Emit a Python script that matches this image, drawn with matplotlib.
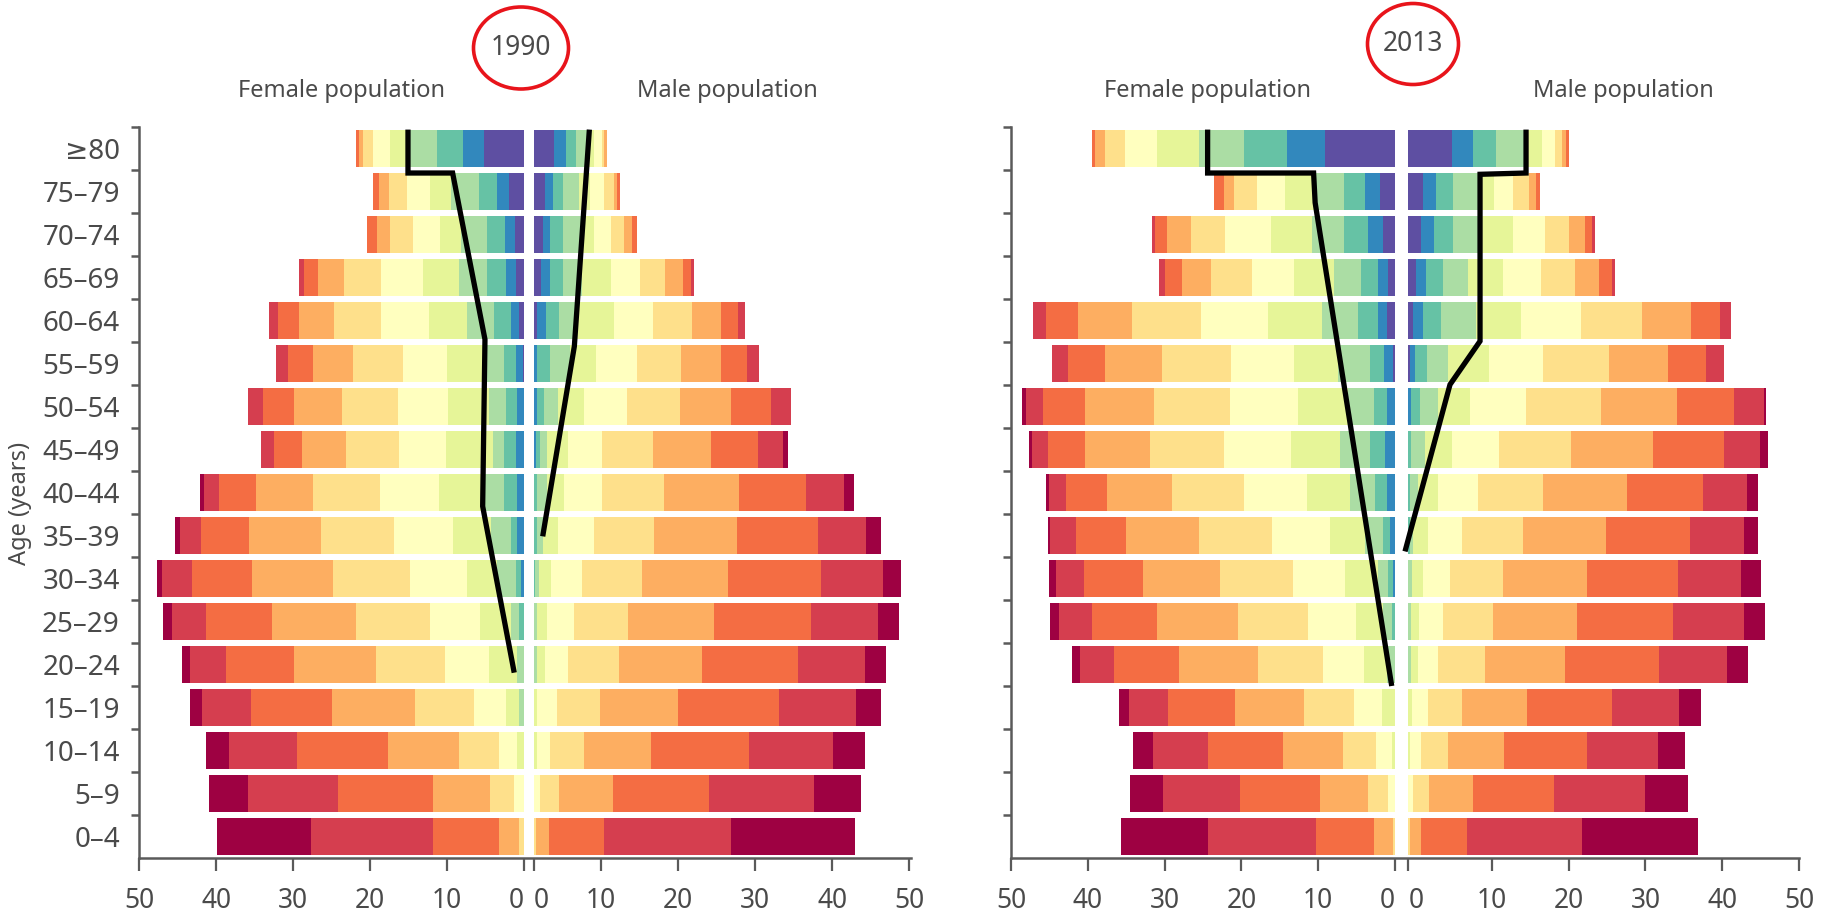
import matplotlib
matplotlib.use("Agg")
import matplotlib.pyplot as plt
from matplotlib.patches import Ellipse

plt.rcParams['font.family'] = ['Noto Sans', 'DejaVu Sans']

AGE_GROUPS = ['0–4', '5–9', '10–14', '15–19', '20–24', '25–29', '30–34', '35–39',
              '40–44', '45–49', '50–54', '55–59', '60–64', '65–69', '70–74', '75–79', '≥80']

# Spectral palette, index 0 = outermost (dark red), 10 = innermost (purple)
SPECTRAL = ['#9e0142', '#d53e4f', '#f46d43', '#fdae61', '#fee08b', '#ffffbf',
            '#e6f598', '#abdda4', '#66c2a5', '#3288bd', '#5e4fa2']

# each row: colour index of the innermost segment, then the outer edge of every
# segment going outwards from the centre line (in %)
F1990_INNER = [4, 5, 6, 7, 7, 8, 9, 9, 9, 9, 9, 10, 10, 10, 10, 10, 10]
F1990_EDGES = [
    [0.65, 3.3, 11.9, 27.7, 39.9],
    [1.3, 4.4, 11.9, 24.2, 35.9, 40.9],
    [0.9, 3.3, 8.5, 17.7, 29.5, 38.4, 41.3],
    [0.65, 2.4, 6.5, 14.2, 25.0, 35.5, 41.8, 43.4],
    [0.9, 4.6, 10.3, 19.2, 29.9, 38.8, 43.4, 44.4],
    [0.65, 1.7, 5.7, 12.2, 21.8, 32.7, 41.4, 45.8, 46.9],
    [0.4, 1.1, 3.5, 7.4, 14.8, 24.9, 35.3, 43.2, 47.0, 47.7],
    [0.9, 1.7, 4.3, 9.2, 16.9, 26.4, 35.7, 42.0, 44.7, 45.4],
    [0.9, 2.6, 5.6, 11.1, 18.7, 27.4, 34.9, 39.7, 41.6, 42.1],
    [1.1, 2.6, 4.1, 10.2, 16.3, 23.2, 28.9, 32.5, 34.2],
    [0.9, 2.4, 4.6, 9.9, 16.4, 23.7, 29.9, 33.9, 35.9],
    [0.2, 1.1, 2.6, 5.0, 10.0, 15.8, 22.2, 27.4, 30.7, 32.3],
    [0.65, 1.7, 3.9, 7.4, 12.4, 18.6, 24.7, 29.2, 32.0, 33.1],
    [1.1, 2.4, 4.8, 8.5, 13.2, 18.6, 23.4, 26.8, 28.6, 29.3],
    [1.2, 2.5, 4.8, 8.2, 10.9, 14.4, 17.4, 19.1, 20.4],
    [2.0, 3.5, 5.9, 9.5, 12.2, 15.2, 17.6, 18.9, 19.6],
    [5.2, 8.0, 11.3, 15.2, 17.4, 19.7, 21.0, 21.5, 21.9],
]

M1990_INNER = [4, 5, 6, 6, 7, 7, 8, 8, 8, 9, 9, 9, 10, 10, 10, 10, 10]
M1990_EDGES = [
    [1.5, 3.2, 10.3, 26.8, 42.9],
    [2.1, 4.5, 11.5, 24.0, 37.6, 43.8],
    [1.6, 3.4, 7.7, 16.5, 29.2, 40.1, 44.2],
    [1.6, 4.3, 9.8, 20.0, 33.1, 43.1, 46.3],
    [1.6, 2.7, 5.7, 12.3, 23.1, 35.5, 44.3, 47.0],
    [1.7, 3.0, 6.5, 13.5, 24.6, 37.2, 46.0, 48.7],
    [1.45, 1.9, 3.5, 7.5, 15.3, 26.5, 38.6, 46.6, 49.0],
    [1.7, 2.5, 4.4, 9.0, 16.9, 27.7, 38.1, 44.4, 46.3],
    [1.7, 3.0, 5.2, 10.1, 18.1, 27.9, 36.6, 41.6, 42.8],
    [1.5, 2.0, 3.0, 5.7, 10.1, 16.7, 24.2, 30.4, 33.6, 34.3],
    [1.6, 2.6, 4.4, 7.8, 13.3, 20.2, 26.9, 32.0, 34.7],
    [1.6, 3.4, 6.0, 9.3, 14.6, 20.3, 25.6, 28.9, 30.5],
    [1.6, 2.8, 4.5, 6.9, 11.6, 16.7, 21.8, 25.6, 27.8, 28.7],
    [2.2, 3.4, 5.1, 7.5, 11.3, 15.1, 18.3, 20.6, 21.6, 22.1],
    [2.4, 3.4, 5.0, 7.5, 9.1, 11.3, 13.0, 14.0, 14.7],
    [2.7, 3.8, 5.1, 7.1, 8.6, 10.3, 11.6, 12.1, 12.4],
    [3.9, 5.4, 6.7, 8.2, 9.0, 10.1, 10.4, 10.7],
]

F2013_INNER = [4, 5, 6, 6, 7, 8, 9, 9, 9, 9, 9, 10, 10, 10, 10, 10, 10]
F2013_EDGES = [
    [0.2, 2.7, 10.3, 24.4, 35.7],
    [0.9, 3.5, 9.8, 20.2, 30.2, 34.5],
    [0.4, 2.5, 6.8, 14.6, 24.3, 31.5, 34.1],
    [1.7, 5.3, 11.8, 20.8, 29.5, 34.7, 36.0],
    [1.0, 4.1, 9.4, 17.9, 28.1, 36.6, 41.0, 42.1],
    [0.4, 1.5, 5.1, 11.3, 20.4, 31.0, 39.5, 43.8, 44.9],
    [0.3, 0.9, 2.2, 6.5, 13.3, 22.8, 32.8, 40.5, 44.2, 45.0],
    [0.65, 1.5, 3.9, 8.5, 16.0, 25.5, 35.0, 41.6, 44.9, 45.2],
    [1.0, 2.6, 5.8, 11.4, 19.7, 29.1, 37.5, 42.8, 45.0, 45.5],
    [1.3, 3.2, 7.1, 13.6, 22.3, 31.9, 40.3, 45.2, 47.3, 47.6],
    [1.1, 2.8, 6.1, 12.6, 21.5, 31.4, 40.3, 45.8, 48.1, 48.6],
    [0.2, 1.4, 3.2, 7.4, 13.1, 21.3, 30.3, 37.8, 42.6, 44.7],
    [1.0, 2.2, 4.8, 9.5, 16.5, 25.3, 34.3, 41.3, 45.5, 47.2],
    [0.95, 2.2, 4.4, 8.0, 13.1, 18.6, 23.9, 27.8, 29.9, 30.7],
    [1.5, 3.5, 6.6, 10.8, 16.2, 22.1, 26.6, 29.7, 31.2, 31.7],
    [1.9, 3.9, 6.6, 10.6, 14.3, 18.0, 20.9, 22.3, 23.6],
    [9.1, 14.1, 19.7, 25.5, 31.0, 35.1, 37.7, 39.0, 39.4],
]

M2013_INNER = [4, 5, 6, 6, 7, 7, 7, 8, 8, 8, 9, 10, 10, 10, 10, 10, 10]
M2013_EDGES = [
    [1.95, 3.4, 9.4, 24.4, 39.5],
    [2.4, 4.4, 10.1, 20.7, 32.6, 38.1],
    [1.9, 3.4, 6.9, 14.2, 25.0, 34.2, 37.7],
    [2.2, 4.3, 8.7, 17.2, 28.3, 37.0, 39.8],
    [2.1, 3.0, 5.6, 11.7, 22.1, 34.4, 43.2, 45.9],
    [2.1, 3.1, 6.2, 12.7, 23.7, 36.2, 45.4, 48.2],
    [2.2, 3.7, 7.2, 14.1, 25.0, 36.9, 45.0, 47.6],
    [1.9, 2.4, 4.3, 8.7, 16.6, 27.5, 38.4, 45.4, 47.3],
    [2.0, 3.0, 5.6, 10.8, 19.3, 30.2, 40.1, 45.8, 47.3],
    [2.1, 3.9, 7.4, 13.5, 22.9, 33.6, 42.8, 47.5, 48.6],
    [2.1, 3.3, 5.6, 9.8, 17.1, 26.8, 36.7, 44.1, 48.0, 48.3],
    [2.0, 2.6, 4.1, 6.9, 12.2, 19.3, 27.8, 35.5, 40.5, 42.8],
    [2.4, 3.7, 6.0, 10.6, 16.4, 24.2, 32.2, 38.6, 42.3, 43.8],
    [2.7, 4.0, 6.2, 9.5, 14.0, 19.0, 23.4, 26.5, 28.2, 28.7],
    [3.4, 5.1, 7.6, 10.9, 15.4, 19.5, 22.7, 24.7, 25.6, 26.0],
    [3.7, 5.3, 7.5, 10.8, 12.9, 15.4, 17.4, 18.4, 18.9],
    [7.4, 10.2, 13.2, 17.1, 19.1, 20.8, 21.7, 22.2, 22.6],
]

# hand-drawn black overlay lines (x in %, female negative; y in age-row units)
LINE_F1990 = ([-15.1, -15.1, -9.3, -5.1, -5.4, -1.3], [16.44, 15.43, 15.43, 11.56, 7.68, 3.81])
LINE_M1990 = ([8.46, 6.51, 2.40], [16.44, 11.40, 6.98])
LINE_F2013 = ([-24.4, -24.4, -10.6, -10.4, -0.43], [16.44, 15.43, 15.43, 14.74, 3.50])
LINE_M2013 = ([17.06, 17.06, 11.07, 11.07, 7.16, 1.30], [16.44, 15.43, 15.40, 11.52, 10.51, 6.63])

TICK_LABELS = ['50', '40', '30', '20', '10', '0', '0', '10', '20', '30', '40', '50']

TEXT = '#4a4a4a'
W, H = 1833, 914
fig = plt.figure(figsize=(W / 100, H / 100), dpi=100)


def draw_half(ax, edges, inner, sign, start):
    for row, (row_edges, c) in enumerate(zip(edges, inner)):
        prev = start
        for k, e in enumerate(row_edges):
            ax.barh(row, sign * (e - prev), left=sign * prev, height=0.87,
                    color=SPECTRAL[c - k], linewidth=0)
            prev = e


def panel(rect, female, male, gap, male_ticks, xmax, lines, labels):
    ax = fig.add_axes(rect)
    draw_half(ax, female[0], female[1], -1, 0.0)
    draw_half(ax, male[0], male[1], 1, gap)
    for xs, ys in lines:
        ax.plot(xs, ys, color='black', lw=3.8, solid_joinstyle='miter',
                solid_capstyle='butt', zorder=5)
    ax.set_xlim(-50, xmax)
    ax.set_ylim(-0.5, 16.5)
    for s in ('top', 'right'):
        ax.spines[s].set_visible(False)
    for s in ('left', 'bottom'):
        ax.spines[s].set_color('#5a5a5a')
        ax.spines[s].set_linewidth(1.8)
    ax.set_xticks([-50, -40, -30, -20, -10, 0] + male_ticks)
    ax.set_xticklabels(TICK_LABELS, fontsize=19, color=TEXT)
    ax.tick_params(axis='x', length=9, width=1.6, color='#5a5a5a', pad=12)
    # keep the two zeros apart
    xl = ax.get_xticklabels()
    xl[5].set_horizontalalignment('right')
    xl[6].set_horizontalalignment('left')
    ax.set_yticks(range(len(AGE_GROUPS)))
    if labels:
        ax.set_yticklabels(AGE_GROUPS, fontsize=20, color=TEXT)
    else:
        ax.set_yticklabels([])
    ax.tick_params(axis='y', which='major', length=0, pad=14)
    ax.set_yticks([k + 0.5 for k in range(len(AGE_GROUPS))], minor=True)
    ax.tick_params(axis='y', which='minor', length=6, width=1.8, color='#5a5a5a')
    return ax


ax1 = panel([139.3 / W, 56 / H, 771.4 / W, 731 / H], (F1990_EDGES, F1990_INNER),
            (M1990_EDGES, M1990_INNER), 1.3, [1.3, 10, 20, 30, 40, 50], 50.2,
            [LINE_F1990, LINE_M1990], True)
ax2 = panel([1011 / W, 56 / H, 788 / W, 731 / H], (F2013_EDGES, F2013_INNER),
            (M2013_EDGES, M2013_INNER), 1.74, [1.74, 12.6, 22.6, 32.6, 42.6, 52.6], 52.6,
            [LINE_F2013, LINE_M2013], False)

fig.text(20 / W, 1 - 503 / H, 'Age (years)', rotation=90, ha='center', va='center',
         fontsize=17, color=TEXT)

for x, t in [(341, 'Female population'), (727, 'Male population'),
             (1208, 'Female population'), (1623, 'Male population')]:
    fig.text(x / W, 1 - 91 / H, t, ha='center', va='center', fontsize=17, color=TEXT)

for x, y, w, h, t in [(521, 48, 95, 82, '1990'), (1413, 44, 91, 81, '2013')]:
    fig.text(x / W, 1 - y / H, t, ha='center', va='center', fontsize=19, color=TEXT)
    fig.add_artist(Ellipse((x / W, 1 - y / H), w / W, h / H, transform=fig.transFigure,
                           fill=False, edgecolor='#e8141b', linewidth=2.6))

fig.savefig('out.png', dpi=100, facecolor='white')
